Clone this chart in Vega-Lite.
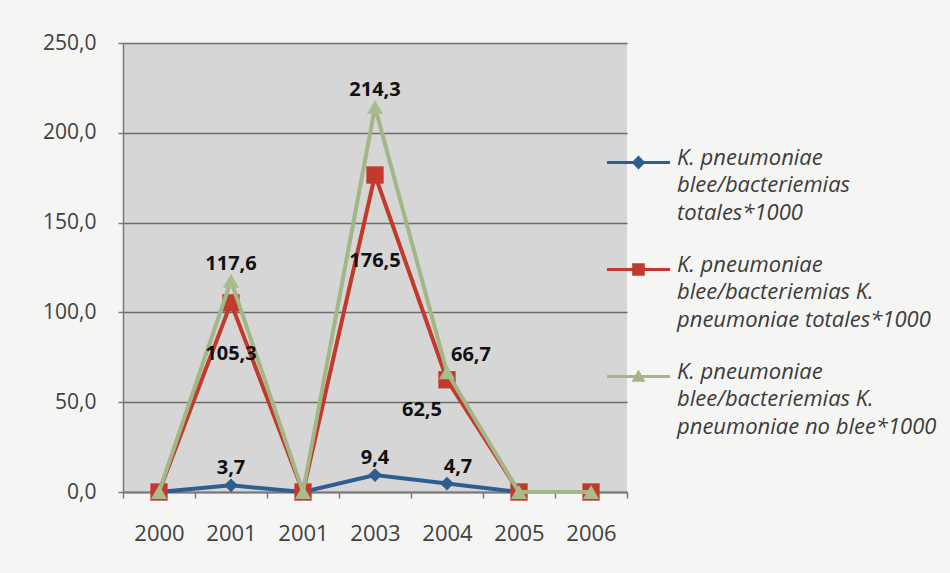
{
  "$schema": "https://vega.github.io/schema/vega-lite/v6.json",
  "width": 504,
  "height": 449,
  "autosize": "none",
  "padding": {"left": 123, "top": 43, "right": 323, "bottom": 81},
  "background": "#f5f5f3",
  "config": {
    "locale": {"number": {"decimal": ",", "thousands": ".", "grouping": [3], "currency": ["", " €"]}},
    "view": {"fill": "#d6d6d6", "stroke": null},
    "font": "Open Sans"
  },
  "data": {
    "values": [
      {"i": 0, "k": "b", "serie": "K. pneumoniae blee/bacteriemias totales*1000", "v": 0},
      {"i": 1, "k": "b", "serie": "K. pneumoniae blee/bacteriemias totales*1000", "v": 3.7},
      {"i": 2, "k": "b", "serie": "K. pneumoniae blee/bacteriemias totales*1000", "v": 0},
      {"i": 3, "k": "b", "serie": "K. pneumoniae blee/bacteriemias totales*1000", "v": 9.4},
      {"i": 4, "k": "b", "serie": "K. pneumoniae blee/bacteriemias totales*1000", "v": 4.7},
      {"i": 5, "k": "b", "serie": "K. pneumoniae blee/bacteriemias totales*1000", "v": 0},
      {"i": 0, "k": "r", "serie": "K. pneumoniae blee/bacteriemias K. pneumoniae totales*1000", "v": 0},
      {"i": 1, "k": "r", "serie": "K. pneumoniae blee/bacteriemias K. pneumoniae totales*1000", "v": 105.3},
      {"i": 2, "k": "r", "serie": "K. pneumoniae blee/bacteriemias K. pneumoniae totales*1000", "v": 0},
      {"i": 3, "k": "r", "serie": "K. pneumoniae blee/bacteriemias K. pneumoniae totales*1000", "v": 176.5},
      {"i": 4, "k": "r", "serie": "K. pneumoniae blee/bacteriemias K. pneumoniae totales*1000", "v": 62.5},
      {"i": 5, "k": "r", "serie": "K. pneumoniae blee/bacteriemias K. pneumoniae totales*1000", "v": 0},
      {"i": 6, "k": "r", "serie": "K. pneumoniae blee/bacteriemias K. pneumoniae totales*1000", "v": 0},
      {"i": 0, "k": "g", "serie": "K. pneumoniae blee/bacteriemias K. pneumoniae no blee*1000", "v": 0},
      {"i": 1, "k": "g", "serie": "K. pneumoniae blee/bacteriemias K. pneumoniae no blee*1000", "v": 117.6},
      {"i": 2, "k": "g", "serie": "K. pneumoniae blee/bacteriemias K. pneumoniae no blee*1000", "v": 0},
      {"i": 3, "k": "g", "serie": "K. pneumoniae blee/bacteriemias K. pneumoniae no blee*1000", "v": 214.3},
      {"i": 4, "k": "g", "serie": "K. pneumoniae blee/bacteriemias K. pneumoniae no blee*1000", "v": 66.7},
      {"i": 5, "k": "g", "serie": "K. pneumoniae blee/bacteriemias K. pneumoniae no blee*1000", "v": 0},
      {"i": 6, "k": "g", "serie": "K. pneumoniae blee/bacteriemias K. pneumoniae no blee*1000", "v": 0}
    ]
  },
  "encoding": {
    "x": {
      "field": "i",
      "type": "ordinal",
      "bandPosition": 0.5,
      "scale": {"type": "band", "paddingInner": 0, "paddingOuter": 0},
      "axis": {
        "title": null,
        "labelAngle": 0,
        "labelExpr": "['2000','2001','2001','2003','2004','2005','2006'][datum.value]",
        "labelFontSize": 22,
        "labelColor": "#404040",
        "labelPadding": 25,
        "tickBand": "extent",
        "tickSize": 6,
        "tickColor": "#7a7a7a",
        "tickWidth": 1.5,
        "domainColor": "#7a7a7a",
        "domainWidth": 2,
        "grid": false
      }
    },
    "y": {
      "field": "v",
      "type": "quantitative",
      "scale": {"domain": [0, 250], "nice": false},
      "axis": {
        "title": null,
        "values": [0, 50, 100, 150, 200, 250],
        "format": ".1f",
        "labelFontSize": 21,
        "labelColor": "#404040",
        "labelPadding": 22,
        "tickSize": 5,
        "tickColor": "#7a7a7a",
        "tickWidth": 1.5,
        "domainColor": "#7a7a7a",
        "domainWidth": 1.5,
        "grid": true,
        "gridColor": "#6e6e6e",
        "gridWidth": 1.6
      }
    }
  },
  "layer": [
    {
      "transform": [{"filter": "datum.k == 'b'"}],
      "mark": {"type": "line", "strokeWidth": 4},
      "encoding": {
        "color": {
          "field": "serie",
          "type": "nominal",
          "scale": {
            "domain": [
              "K. pneumoniae blee/bacteriemias totales*1000",
              "K. pneumoniae blee/bacteriemias K. pneumoniae totales*1000",
              "K. pneumoniae blee/bacteriemias K. pneumoniae no blee*1000"
            ],
            "range": ["#2d5e8f", "#c23a2c", "#a2b686"]
          },
          "legend": {
            "title": null,
            "orient": "none",
            "legendX": 484,
            "legendY": 88,
            "padding": 0,
            "symbolSize": 3969,
            "labelOffset": 7,
            "rowPadding": 14,
            "labelFont": "Open Sans",
            "labelFontStyle": "italic",
            "labelFontSize": 22,
            "labelColor": "#3c3c3c",
            "labelLimit": 0,
            "labelBaseline": "top",
            "labelExpr": "datum.index == 0 ? ['K. pneumoniae', 'blee/bacteriemias', 'totales*1000'] : datum.index == 1 ? ['K. pneumoniae', 'blee/bacteriemias K.', 'pneumoniae totales*1000'] : ['K. pneumoniae', 'blee/bacteriemias K.', 'pneumoniae no blee*1000']",
            "encode": {
              "symbols": {
                "update": {
                  "shape": {"signal": "datum.index == 0 ? 'M-1,-0.05H1V0.05H-1Z M0,-0.22L0.22,0L0,0.22L-0.22,0Z' : datum.index == 1 ? 'M-1,-0.05H1V0.05H-1Z M-0.2,-0.2H0.2V0.2H-0.2Z' : 'M-1,-0.05H1V0.05H-1Z M0,-0.22L0.22,0.17H-0.22Z'"},
                  "fill": {"signal": "scale('color', datum.value)"},
                  "strokeWidth": {"value": 0}
                }
              },
              "labels": {
                "update": {
                  "dy": {"value": -15},
                  "lineHeight": {"value": 27.5}
                }
              }
            }
          }
        }
      }
    },
    {
      "transform": [{"filter": "datum.k == 'b'"}],
      "mark": {"type": "point", "shape": "diamond", "filled": true, "size": 190, "color": "#2d5e8f", "opacity": 1}
    },
    {
      "transform": [{"filter": "datum.k == 'r'"}],
      "mark": {"type": "line", "strokeWidth": 4},
      "encoding": {"color": {"field": "serie", "type": "nominal"}}
    },
    {
      "transform": [{"filter": "datum.k == 'r'"}],
      "mark": {"type": "point", "shape": "square", "filled": true, "size": 300, "color": "#c23a2c", "opacity": 1}
    },
    {
      "transform": [{"filter": "datum.k == 'g'"}],
      "mark": {"type": "line", "strokeWidth": 4},
      "encoding": {"color": {"field": "serie", "type": "nominal"}}
    },
    {
      "transform": [{"filter": "datum.k == 'g'"}],
      "mark": {"type": "point", "shape": "triangle-up", "filled": true, "size": 260, "color": "#a8bc8c", "opacity": 1}
    },
    {
      "transform": [{"filter": "datum.v > 0"}],
      "mark": {
        "type": "text",
        "font": "Open Sans",
        "fontWeight": "bold",
        "fontSize": 20,
        "color": "#111111",
        "baseline": "middle",
        "dx": {"expr": "datum.i == 4 ? (datum.k == 'r' ? -25 : datum.k == 'g' ? 24 : 11) : 0"},
        "dy": {"expr": "datum.k == 'r' ? datum.v * 0.49 : -17"}
      },
      "encoding": {
        "text": {"field": "v", "type": "quantitative", "format": ".1f"}
      }
    }
  ]
}
